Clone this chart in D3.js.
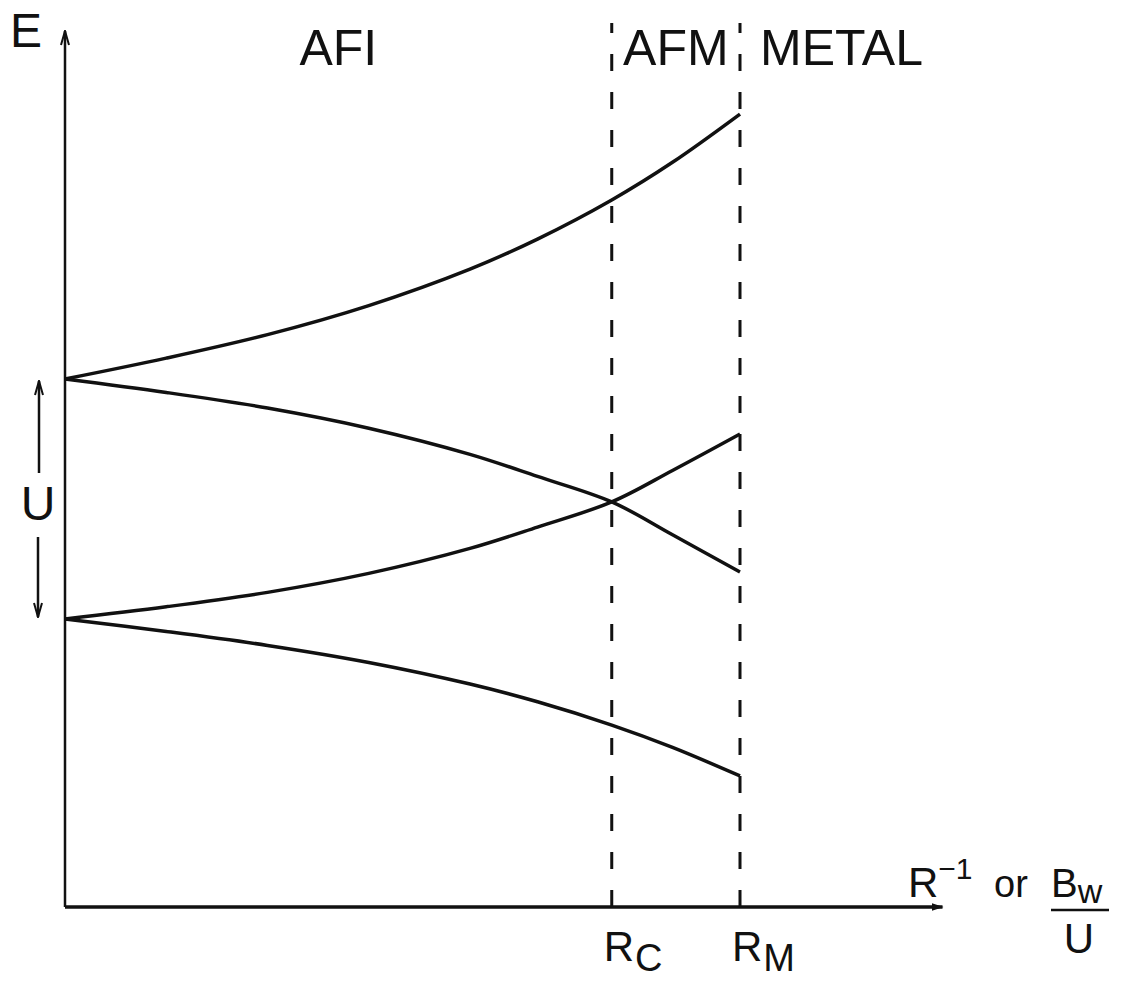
<!DOCTYPE html>
<html>
<head>
<meta charset="utf-8">
<script src="https://cdn.jsdelivr.net/npm/d3@7"></script>
<style>
  body { margin: 0; background: #fff; }
  text { font-family: "Liberation Sans", Arial, sans-serif; fill: #111; }
</style>
</head>
<body>
<div id="chart"></div>
<script>
var xVals = [0, 0.15, 0.3, 0.45, 0.6, 0.7, 0.81, 0.9, 1.0];
// four energy levels, in units of U (gap U between the two starting points)
var upperUp   = [0.5, 0.587, 0.685, 0.806, 0.958, 1.083, 1.246, 1.403, 1.604];
var upperDown = [0.5, 0.444, 0.379, 0.295, 0.186, 0.094, -0.012, -0.149, -0.304];
var lowerUp   = [-0.5, -0.449, -0.389, -0.310, -0.206, -0.117, -0.012, 0.119, 0.271];
var lowerDown = [-0.5, -0.552, -0.610, -0.681, -0.771, -0.845, -0.942, -1.035, -1.154];
var levels = [upperUp, upperDown, lowerUp, lowerDown];

// phase boundaries and their labels
var boundaries = [0.81, 1.0];
var boundarySubs = ["C", "M"];
var phases = ["AFI", "AFM", "METAL"];

var width = 1130, height = 981;

var svg = d3.select("#chart")
  .append("svg")
  .attr("width", width)
  .attr("height", height);

svg.append("rect").attr("width", width).attr("height", height).attr("fill", "#fff");

var x = d3.scaleLinear().domain([0, 1]).range([65, 740]);
var y = d3.scaleLinear().domain([-1.7, 1.95]).range([907, 31]);

var xMax = 1.3, yMax = 1.95, yMin = -1.7;

// arrow heads
var defs = svg.append("defs");
defs.append("marker")
  .attr("id", "arrow")
  .attr("viewBox", "0 0 12 10")
  .attr("refX", 11).attr("refY", 5)
  .attr("markerWidth", 12).attr("markerHeight", 10)
  .attr("markerUnits", "userSpaceOnUse")
  .attr("orient", "auto")
  .append("path")
  .attr("d", "M0,1 L12,5 L0,9 Z")
  .attr("fill", "#111");
defs.append("marker")
  .attr("id", "openArrow")
  .attr("viewBox", "0 0 16 12")
  .attr("refX", 15).attr("refY", 6)
  .attr("markerWidth", 16).attr("markerHeight", 12)
  .attr("markerUnits", "userSpaceOnUse")
  .attr("orient", "auto")
  .append("path")
  .attr("d", "M1,2 L15,6 L1,10")
  .attr("fill", "none")
  .attr("stroke", "#111")
  .attr("stroke-width", 2);

// axes
svg.append("line")
  .attr("x1", x(0)).attr("y1", y(yMin))
  .attr("x2", x(xMax)).attr("y2", y(yMin))
  .attr("stroke", "#111").attr("stroke-width", 3.5)
  .attr("marker-end", "url(#arrow)");
svg.append("line")
  .attr("x1", x(0)).attr("y1", y(yMin))
  .attr("x2", x(0)).attr("y2", y(yMax))
  .attr("stroke", "#111").attr("stroke-width", 2.5)
  .attr("marker-end", "url(#openArrow)");

// dashed phase boundaries
svg.selectAll(".boundary")
  .data(boundaries)
  .enter().append("line")
  .attr("class", "boundary")
  .attr("x1", function(d) { return x(d); })
  .attr("x2", function(d) { return x(d); })
  .attr("y1", y(yMin))
  .attr("y2", y(yMax) - 8)
  .attr("stroke", "#111")
  .attr("stroke-width", 3)
  .attr("stroke-dasharray", "17,21");

// the energy levels
var line = d3.line()
  .x(function(d, i) { return x(xVals[i]); })
  .y(function(d) { return y(d); })
  .curve(d3.curveCatmullRom);

svg.selectAll(".level")
  .data(levels)
  .enter().append("path")
  .attr("class", "level")
  .attr("d", line)
  .attr("fill", "none")
  .attr("stroke", "#111")
  .attr("stroke-width", 3.5);

// phase names
svg.append("text").attr("x", (x(0) + x(boundaries[0])) / 2).attr("y", 65)
  .attr("text-anchor", "middle").attr("font-size", 50).text(phases[0]);
svg.append("text").attr("x", (x(boundaries[0]) + x(boundaries[1])) / 2).attr("y", 65)
  .attr("text-anchor", "middle").attr("font-size", 50).text(phases[1]);
svg.append("text").attr("x", x(boundaries[1]) + 20).attr("y", 65)
  .attr("font-size", 50).text(phases[2]);

// axis label E
svg.append("text").attr("x", 10).attr("y", 47).attr("font-size", 48).text("E");

// U with double arrow
svg.append("text").attr("x", 38).attr("y", 520).attr("text-anchor", "middle")
  .attr("font-size", 48).text("U");
svg.append("line")
  .attr("x1", 39).attr("y1", 473).attr("x2", 39).attr("y2", y(upperUp[0]) + 2)
  .attr("stroke", "#111").attr("stroke-width", 2.5)
  .attr("marker-end", "url(#openArrow)");
svg.append("line")
  .attr("x1", 38).attr("y1", 537).attr("x2", 38).attr("y2", y(lowerUp[0]) - 2)
  .attr("stroke", "#111").attr("stroke-width", 2.5)
  .attr("marker-end", "url(#openArrow)");

// R_C, R_M under the axis
boundaries.forEach(function(b, i) {
  var t = svg.append("text").attr("x", x(b) - 8).attr("y", 961).attr("font-size", 42);
  t.append("tspan").text("R");
  t.append("tspan").attr("dy", 10).attr("dx", 1).attr("font-size", 38).text(boundarySubs[i]);
});

// x axis label: R^-1 or Bw / U
var xl = svg.append("text").attr("x", 908).attr("y", 897).attr("font-size", 42);
xl.append("tspan").text("R");
xl.append("tspan").attr("dy", -18).attr("font-size", 30).text("−1");
svg.append("text").attr("x", 994).attr("y", 897).attr("font-size", 38).text("or");
var bw = svg.append("text").attr("x", 1051).attr("y", 897).attr("font-size", 40);
bw.append("tspan").text("B");
bw.append("tspan").attr("dy", 6).attr("font-size", 34).text("w");
svg.append("line").attr("x1", 1051).attr("x2", 1109).attr("y1", 910).attr("y2", 910)
  .attr("stroke", "#111").attr("stroke-width", 2.5);
svg.append("text").attr("x", 1079).attr("y", 953).attr("text-anchor", "middle")
  .attr("font-size", 42).text("U");
</script>
</body>
</html>
